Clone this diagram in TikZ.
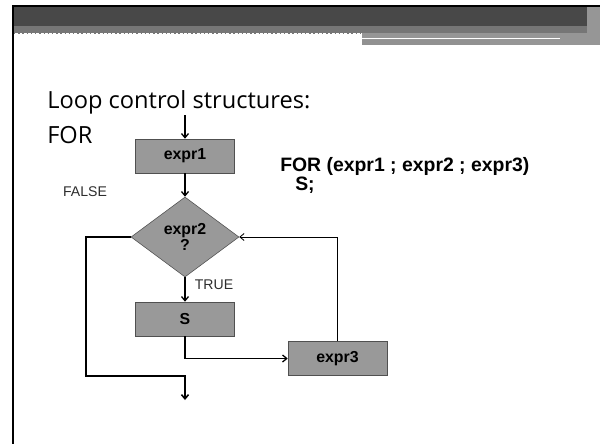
\documentclass[tikz,border=0pt]{standalone}
\usepackage{fontspec}
\setmainfont{Liberation Sans}
\newfontfamily\titlefont{Open Sans}
\usetikzlibrary{arrows.meta,shapes.geometric}
\definecolor{boxgrey}{RGB}{153,153,153}
\definecolor{edgegrey}{RGB}{80,80,80}
\definecolor{bandgrey}{RGB}{72,72,72}
\definecolor{stripgrey}{RGB}{118,118,118}
\definecolor{dithgrey}{RGB}{150,150,150}
\definecolor{labgrey}{RGB}{45,45,45}

\begin{document}
\begin{tikzpicture}[
  box/.style={draw=edgegrey, fill=boxgrey, minimum width=2.475cm, minimum height=0.85cm, inner sep=0pt, font=\fontsize{11.3}{13}\selectfont\bfseries},
  test/.style={diamond, draw=edgegrey, fill=boxgrey, minimum width=2.7cm, minimum height=2cm, inner sep=0pt, align=center, font=\fontsize{11.3}{12}\selectfont\bfseries},
  lab/.style={text=labgrey, inner sep=0pt, font=\fontsize{10}{12}\selectfont},
  ttl/.style={anchor=base west, inner sep=0pt, font=\titlefont\fontsize{16.8}{20}\selectfont},
  code/.style={anchor=base west, inner sep=0pt, font=\fontsize{13.8}{15}\selectfont\bfseries},
  ar/.style={-{Straight Barb[length=3pt,width=5pt]}, line width=0.9pt},
  ln/.style={line width=0.6pt}
]
\useasboundingbox (0,0) rectangle (15,11.1);
% slide frame and header bands
\fill[bandgrey] (0.35,10.45) rectangle (14.675,10.925);
\fill[stripgrey] (0.35,10.275) rectangle (14.675,10.45);
\fill[dithgrey] (9.05,9.975) rectangle (14.675,10.275);
\fill[stripgrey!80] (9.05,9.975) rectangle (12.25,10.1);
\fill[white] (9.05,10.125) rectangle (14.0,10.16);
\fill[dithgrey] (14.675,9.975) rectangle (15,10.925);
\draw[stripgrey, line width=1pt, dotted] (0.35,10.26) -- (9.05,10.26);
\fill[black] (0.3,10.925) rectangle (15,10.975);
\fill[black] (0.3,0) rectangle (0.35,10.975);
% titles and code
\node[ttl] (t1) at (1.175,8.4) {Loop control structures:};
\node[ttl] (t2) at (1.175,7.525) {FOR};
\node[code] (c1) at (7.0,6.82) {FOR (expr1 ; expr2 ; expr3)};
\node[code] (c2) at (7.375,6.33) {S;};
% flow chart
\coordinate (in) at (4.625,8.225);
\node[box] (e1) at (4.625,7.2) {expr1};
\node[test] (e2) at (4.625,5.175) {expr2\\?};
\node[box] (s) at (4.625,3.125) {S};
\node[box] (e3) at (8.4375,2.1375) {expr3};
\coordinate (out) at (4.625,1.1);
\node[lab] (f) at (2.125,6.3) {FALSE};
\node[lab] (t) at (5.35,3.975) {TRUE};
\draw[ar] (in) -- (e1);
\draw[ar] (e1) -- (e2);
\draw[ar] (e2) -- (s);
\draw[ar] (s.south) |- (e3.west);
\draw[ln, -{Straight Barb[length=3pt,width=5pt]}] (e3.north) |- (e2.east);
\draw[ar, line width=1.1pt] (e2.west) -| (2.15,1.7) -| (out);
\end{tikzpicture}
\end{document}
